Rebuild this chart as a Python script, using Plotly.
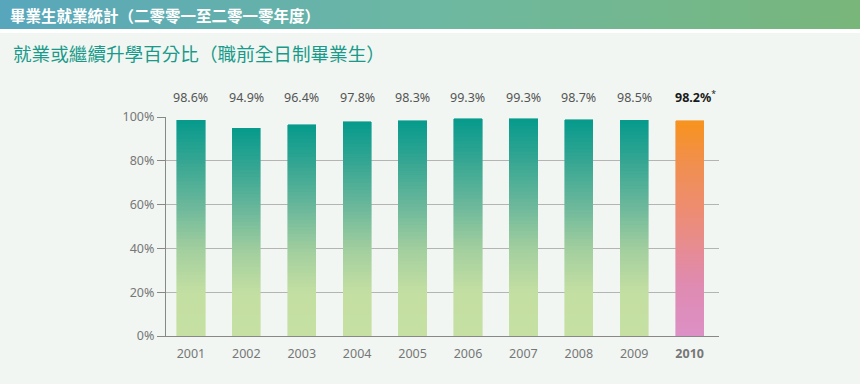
import plotly.graph_objects as go

years = ["2001", "2002", "2003", "2004", "2005", "2006", "2007", "2008", "2009", "2010"]
rates = [98.6, 94.9, 96.4, 97.8, 98.3, 99.3, 99.3, 98.7, 98.5, 98.2]
label_text = ["98.6%", "94.9%", "96.4%", "97.8%", "98.3%", "99.3%", "99.3%", "98.7%", "98.5%", "98.2%"]
highlight = "2010"
y_ticks = [0, 20, 40, 60, 80, 100]
y_ticktext = ["0%", "20%", "40%", "60%", "80%", "100%"]

title_main = "畢業生就業統計（二零零一至二零一零年度）"
title_sub = "就業或繼續升學百分比（職前全日制畢業生）"

W, H = 860, 384
L, R, T, B = 166, 141, 117, 48
PW, PH = W - L - R, H - T - B


def hex2rgb(h):
    h = h.lstrip('#')
    return [int(h[i:i + 2], 16) for i in (0, 2, 4)]


def interp(stops, f):
    for i in range(len(stops) - 1):
        f0, c0 = stops[i]
        f1, c1 = stops[i + 1]
        if f0 <= f <= f1:
            t = (f - f0) / (f1 - f0) if f1 > f0 else 0
            a, b = hex2rgb(c0), hex2rgb(c1)
            return 'rgb(%d,%d,%d)' % tuple(round(a[k] + (b[k] - a[k]) * t) for k in range(3))
    return stops[-1][1]


green_stops = [(0.0, "#c6e0a3"), (0.2, "#c4dfa2"), (0.4, "#a3cf9f"), (0.6, "#6cb89b"),
               (0.8, "#38a793"), (1.0, "#069a8c")]
orange_stops = [(0.0, "#dc90c6"), (0.25, "#e08bb0"), (0.55, "#ec8c78"), (0.8, "#f18f4f"), (1.0, "#f7931e")]

N = 60
fig = go.Figure()
for k in range(N):
    f = (k + 0.5) / N
    cols = [interp(orange_stops if yr == highlight else green_stops, f) for yr in years]
    fig.add_trace(go.Bar(
        x=years, y=[v / N for v in rates],
        marker=dict(color=cols, line=dict(color=cols, width=0.6)),
        showlegend=False, hoverinfo="skip"))

fig.update_layout(barmode="stack", bargap=0.49)

# data labels above plot (x given as category index)
for i, (yr, txt) in enumerate(zip(years, label_text)):
    if yr == highlight:
        t = "<b>%s</b><sup>*</sup>" % txt
        col = "#1a1a1a"
        xs = 6
    else:
        t = txt
        col = "#555555"
        xs = 0
    fig.add_annotation(x=i, y=(336 - 97) / PH, xref="x", yref="paper", text=t, xshift=xs,
                       showarrow=False, font=dict(size=12.5, color=col, family="Noto Sans"),
                       xanchor="center", yanchor="middle")

# header band with gradient
shapes = []
hdr_stops = [(0.0, "#58a6bb"), (0.5, "#6db8a2"), (1.0, "#78b67a")]
nseg = 86
for i in range(nseg):
    x0 = i * W / nseg
    x1 = (i + 1) * W / nseg + 0.5
    shapes.append(dict(type="rect", xref="paper", yref="paper", layer="below",
                       x0=(x0 - L) / PW, x1=(x1 - L) / PW,
                       y0=(T + PH - 29) / PH, y1=(T + PH) / PH,
                       fillcolor=interp(hdr_stops, (i + 0.5) / nseg), line=dict(width=0)))
shapes.append(dict(type="rect", xref="paper", yref="paper", layer="below",
                   x0=-L / PW, x1=(W - L) / PW, y0=(T + PH - 33) / PH, y1=(T + PH - 29) / PH,
                   fillcolor="#ffffff", line=dict(width=0)))
fig.update_layout(shapes=shapes)

fig.add_annotation(x=(8 - L) / PW, y=(T + PH - 15) / PH, xref="paper", yref="paper",
                   text="<b>%s</b>" % title_main, showarrow=False, xanchor="left", yanchor="middle",
                   font=dict(size=15.5, color="#ffffff", family="Noto Sans CJK TC"))
fig.add_annotation(x=(11 - L) / PW, y=(T + PH - 52) / PH, xref="paper", yref="paper",
                   text=title_sub, showarrow=False, xanchor="left", yanchor="middle",
                   font=dict(size=18.6, color="#1a9a8a", family="Noto Sans CJK TC"))

ticktext = ["<b>%s</b>" % y if y == highlight else y for y in years]
fig.update_layout(
    width=W, height=H,
    margin=dict(l=L, r=R, t=T, b=B, pad=0),
    paper_bgcolor="#f1f6f2", plot_bgcolor="#f1f6f2",
    font=dict(family="Noto Sans", color="#777777", size=12),
    xaxis=dict(type="category", range=[-0.45, 9.53], tickvals=years, ticktext=ticktext,
               showline=True, linecolor="#888888", linewidth=1.2, ticks="", showgrid=False,
               tickfont=dict(size=12.5, color="#777777"), ticklabelstandoff=6),
    yaxis=dict(range=[0, 100], tickmode="array", tickvals=y_ticks, ticktext=y_ticktext,
               showline=True, linecolor="#888888", linewidth=1.2, ticks="outside", ticklen=8,
               tickcolor="#888888", gridcolor="#b4b4b4", gridwidth=1, zeroline=False,
               tickfont=dict(size=12.5, color="#777777")),
)

fig.write_html("out.html", config={"displayModeBar": False},
               post_script="document.body.style.margin='0px';")
